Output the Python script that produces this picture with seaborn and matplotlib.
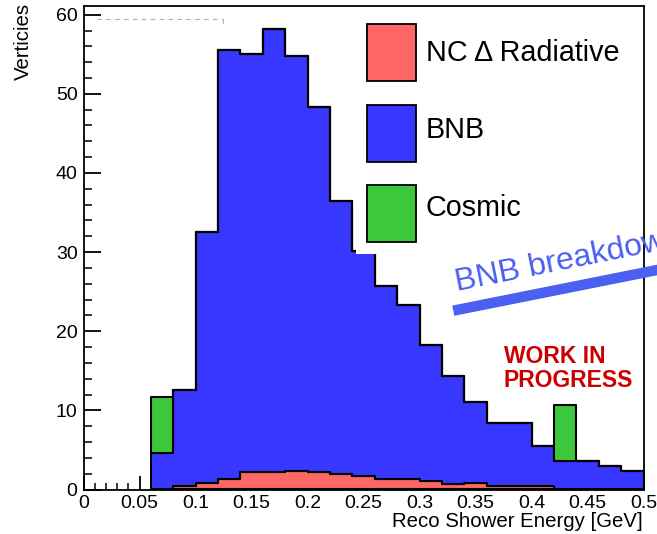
import numpy as np
import pandas as pd
import matplotlib
matplotlib.use("Agg")
import matplotlib.pyplot as plt
import seaborn as sns
from matplotlib.patches import Rectangle
from matplotlib.lines import Line2D
from matplotlib.ticker import MultipleLocator

# ---------------- data ----------------
bin_edges = [0.06, 0.08, 0.10, 0.12, 0.14, 0.16, 0.18, 0.20, 0.22, 0.24, 0.26, 0.28,
             0.30, 0.32, 0.34, 0.36, 0.38, 0.40, 0.42, 0.44, 0.46, 0.48, 0.50]
nc_delta = [0.0, 0.45, 0.85, 1.3, 2.2, 2.15, 2.4, 2.2, 1.9, 1.75, 1.3, 1.3,
            1.05, 0.65, 0.85, 0.4, 0.4, 0.4, 0.0, 0.0, 0.0, 0.0]
bnb_total = [4.6, 12.6, 32.6, 55.5, 55.0, 58.2, 54.8, 48.3, 36.5, 30.2, 25.7, 23.3,
             18.2, 14.3, 11.1, 8.4, 8.4, 5.5, 3.6, 3.6, 3.0, 2.4]
bnb = [round(t - n, 3) for t, n in zip(bnb_total, nc_delta)]
cosmic = [7.1, 0, 0, 0, 0, 0, 0, 0, 0, 0, 0, 0, 0, 0, 0, 0, 0, 0, 7.1, 0, 0, 0]

series_labels = ["NC \u0394 Radiative", "BNB", "Cosmic"]
series_colors = ["#ff6666", "#3737ff", "#3cc83c"]

x_ticks = [0, 0.05, 0.1, 0.15, 0.2, 0.25, 0.3, 0.35, 0.4, 0.45, 0.5]
x_tick_labels = ["0", "0.05", "0.1", "0.15", "0.2", "0.25", "0.3", "0.35", "0.4", "0.45", "0.5"]
y_ticks = [0, 10, 20, 30, 40, 50, 60]

# ---------------- figure ----------------
W, H = 657, 534
sns.set_style("ticks")
plt.rcParams["font.family"] = ["Liberation Sans", "DejaVu Sans"]

fig = plt.figure(figsize=(W / 100, H / 100), dpi=100)

def fx(x):
    return x / W

def fy(y):
    return 1 - y / H

ax_left, ax_right, ax_top, ax_bottom = 83.5, 643.5, 6.0, 489.5
ax = fig.add_axes([fx(ax_left), fy(ax_bottom), (ax_right - ax_left) / W, (ax_bottom - ax_top) / H])

centers = [(bin_edges[i] + bin_edges[i + 1]) / 2 for i in range(len(bin_edges) - 1)]
rows = []
for lab, vals in zip(series_labels, [nc_delta, bnb, cosmic]):
    for c, v in zip(centers, vals):
        rows.append({"energy": c, "count": v, "component": lab})
df = pd.DataFrame(rows)

palette = dict(zip(series_labels, series_colors))
sns.histplot(data=df, x="energy", weights="count", hue="component",
             hue_order=series_labels[::-1], bins=bin_edges, multiple="stack",
             element="step", fill=True, palette=palette, alpha=1,
             edgecolor="black", linewidth=1.5, legend=False, ax=ax)

ax.set_xlim(0, 0.5)
ax.set_ylim(0, 61.1)

# white legend box covering part of the histogram (as in the reference)
ax.add_patch(Rectangle((0.2433, 29.77), 0.5 - 0.2433, 61.1 - 29.77,
                       facecolor="white", edgecolor="none", zorder=2))

ax.set_xticks(x_ticks)
ax.set_xticklabels(x_tick_labels)
ax.set_yticks(y_ticks)
ax.xaxis.set_minor_locator(MultipleLocator(0.01))
ax.yaxis.set_minor_locator(MultipleLocator(2))
ax.tick_params(axis="x", which="major", direction="in", length=10, width=1.3,
               labelsize=14, pad=4, colors="black", top=False)
ax.tick_params(axis="x", which="minor", direction="in", length=5, width=1.3, top=False)
ax.tick_params(axis="y", which="major", direction="in", length=12, width=1.3,
               labelsize=14, pad=4.3, colors="black", right=False)
ax.tick_params(axis="y", which="minor", direction="in", length=6, width=1.3, right=False)
for s in ax.spines.values():
    s.set_linewidth(1.3)
    s.set_color("black")
    s.set_visible(True)

ax.set_xlabel("")
ax.set_ylabel("")
fig.text(fx(643), fy(527), "Reco Shower Energy [GeV]", ha="right", va="baseline",
         fontsize=14.7, color="black")
fig.text(fx(14), fy(3), "Verticies", rotation=90, ha="right", va="top",
         rotation_mode="anchor", fontsize=14.7, color="black")

# legend (ROOT-like)
box_tops = [24, 105, 185]
baselines = [60.7, 138.3, 216]
for top, base, lab, col in zip(box_tops, baselines, series_labels, series_colors):
    fig.add_artist(Rectangle((fx(367), fy(top + 56.7)), 49 / W, 56.7 / H,
                             transform=fig.transFigure, facecolor=col,
                             edgecolor="black", linewidth=1.3))
    fig.text(fx(425.7), fy(base), lab, ha="left", va="baseline", fontsize=20.7, color="black")

# faint dashed remnant at top-left
fig.add_artist(Line2D([fx(97), fx(223)], [fy(19), fy(19)], transform=fig.transFigure,
                      color="#b0b0b0", linewidth=0.8, linestyle=(0, (4, 4))))
fig.add_artist(Line2D([fx(223), fx(223)], [fy(19), fy(23)], transform=fig.transFigure,
                      color="#b0b0b0", linewidth=0.8))

# annotations (clipped by the right edge, as in the reference)
fig.text(fx(456.7), fy(290.7), "BNB breakdown", rotation=11.3, rotation_mode="anchor",
         ha="left", va="baseline", fontsize=23, color="#4b5ff0")
fig.add_artist(Line2D([fx(453.3), fx(720)], [fy(310.7), fy(310.7 - (720 - 453.3) * 0.1998)],
                      transform=fig.transFigure, color="#4b5ff0", linewidth=7.5,
                      solid_capstyle="butt"))
fig.text(fx(503.5), fy(363), "WORK IN", ha="left", va="baseline", fontsize=16.5,
         fontweight="bold", color="#cc0000")
fig.text(fx(503.5), fy(386.7), "PROGRESS", ha="left", va="baseline", fontsize=16.5,
         fontweight="bold", color="#cc0000")

fig.savefig("out.png", dpi=100)
